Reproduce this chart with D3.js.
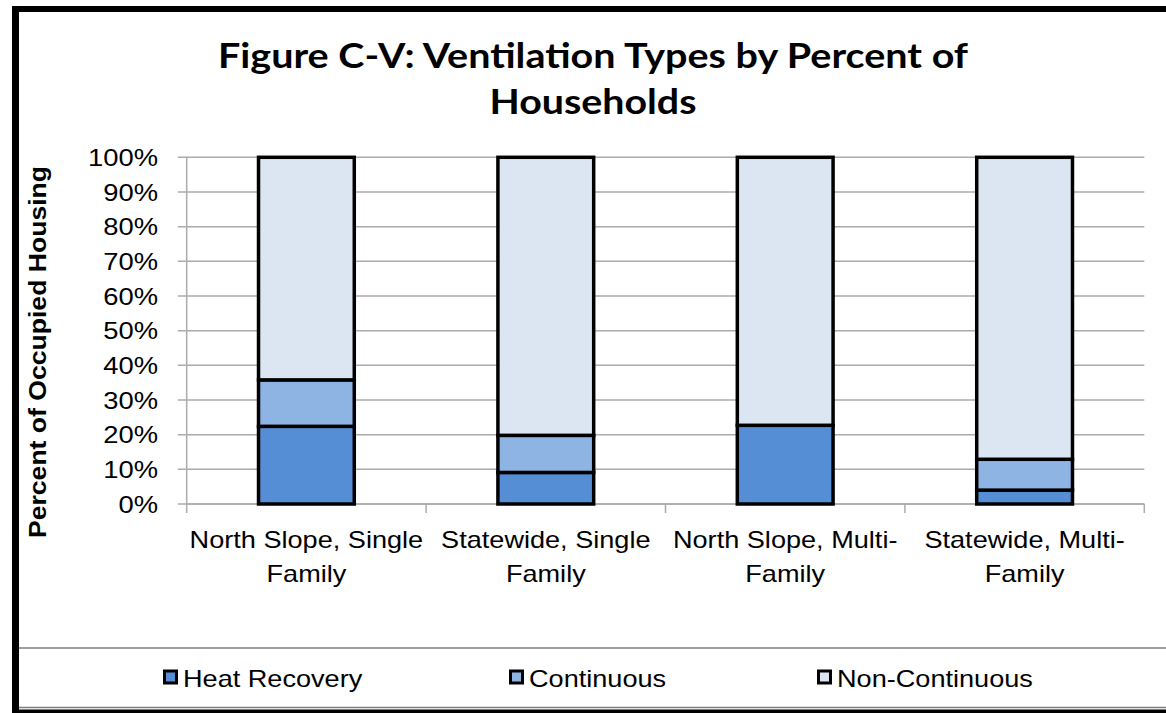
<!DOCTYPE html>
<html>
<head>
<meta charset="utf-8">
<script src="https://cdn.jsdelivr.net/npm/d3@7"></script>
<style>
  html, body { margin: 0; padding: 0; background: #fff; }
  svg { display: block; }
</style>
</head>
<body>
<div id="chart"></div>
<script>
// chart values
const categories = ["NS-SF", "SW-SF", "NS-MF", "SW-MF"];
const categoryLabels = [
  ["North Slope, Single", "Family"],
  ["Statewide, Single", "Family"],
  ["North Slope, Multi-", "Family"],
  ["Statewide, Multi-", "Family"]
];
const heatRecovery = [22.4, 9.1, 22.7, 4.0];
const continuous = [13.4, 10.7, 0, 8.9];
const nonContinuous = [64.2, 80.2, 77.3, 87.1];
const seriesNames = ["Heat Recovery", "Continuous", "Non-Continuous"];
const seriesColors = ["#558ed5", "#8eb4e3", "#dce6f2"];
const yTicks = [0, 10, 20, 30, 40, 50, 60, 70, 80, 90, 100];

const width = 1166, height = 713;
let plot = { left: 186.7, right: 1144.3, top: 157.3, bottom: 504 };

let rows = categories.map((c, i) => ({
  cat: c,
  "Heat Recovery": heatRecovery[i],
  "Continuous": continuous[i],
  "Non-Continuous": nonContinuous[i]
}));

let stacked = d3.stack().keys(seriesNames)(rows);

let x = d3.scaleBand()
  .domain(categories)
  .range([plot.left, plot.right])
  .paddingInner(0.6)
  .paddingOuter(0.3);

let y = d3.scaleLinear()
  .domain([0, 100])
  .range([plot.bottom, plot.top]);

let color = d3.scaleOrdinal().domain(seriesNames).range(seriesColors);

let svg = d3.select("#chart").append("svg")
  .attr("width", width)
  .attr("height", height);

// frame
svg.append("rect").attr("x", 0).attr("y", 0).attr("width", width).attr("height", height).attr("fill", "#fff");
svg.append("line").attr("x1", 12).attr("x2", width).attr("y1", 9).attr("y2", 9)
  .attr("stroke", "#000").attr("stroke-width", 6);
svg.append("line").attr("x1", 15.5).attr("x2", 15.5).attr("y1", 6).attr("y2", height)
  .attr("stroke", "#000").attr("stroke-width", 7);
svg.append("line").attr("x1", 19).attr("x2", width).attr("y1", 648).attr("y2", 648)
  .attr("stroke", "#7f7f7f").attr("stroke-width", 1.5);
svg.append("line").attr("x1", 19).attr("x2", width).attr("y1", 707.5).attr("y2", 707.5)
  .attr("stroke", "#7f7f7f").attr("stroke-width", 1.5);
svg.append("line").attr("x1", 12).attr("x2", width).attr("y1", 711.5).attr("y2", 711.5)
  .attr("stroke", "#000").attr("stroke-width", 4);

// title
let title = svg.append("text")
  .attr("text-anchor", "middle")
  .style("font-family", "Lato, 'Open Sans', sans-serif")
  .style("font-weight", "bold")
  .style("font-size", "35px")
  .attr("fill", "#000");
title.append("tspan").attr("x", 593).attr("y", 68)
  .attr("textLength", 750).attr("lengthAdjust", "spacingAndGlyphs")
  .text("Figure C-V: Ventilation Types by Percent of");
title.append("tspan").attr("x", 593).attr("y", 114)
  .attr("textLength", 207).attr("lengthAdjust", "spacingAndGlyphs")
  .text("Households");

// gridlines
svg.append("g")
  .selectAll("line")
  .data(yTicks)
  .join("line")
    .attr("x1", plot.left - 9)
    .attr("x2", plot.right)
    .attr("y1", d => y(d))
    .attr("y2", d => y(d))
    .attr("stroke", "#ababab")
    .attr("stroke-width", 1.5);

// y axis line
svg.append("line")
  .attr("x1", plot.left).attr("x2", plot.left)
  .attr("y1", plot.top).attr("y2", plot.bottom)
  .attr("stroke", "#ababab").attr("stroke-width", 1.5);

// y tick labels
svg.append("g")
  .selectAll("text")
  .data(yTicks)
  .join("text")
    .attr("transform", d => `translate(158,${y(d)}) scale(1.14,1)`)
    .attr("dy", "0.36em")
    .attr("text-anchor", "end")
    .style("font-family", "'Liberation Sans', Arial, sans-serif")
    .style("font-size", "24px")
    .attr("fill", "#000")
    .text(d => d + "%");

// y axis title
svg.append("text")
  .attr("transform", "translate(46,352) rotate(-90)")
  .attr("text-anchor", "middle")
  .attr("textLength", 372).attr("lengthAdjust", "spacingAndGlyphs")
  .style("font-family", "'Liberation Sans', Arial, sans-serif")
  .style("font-weight", "bold")
  .style("font-size", "23px")
  .text("Percent of Occupied Housing");

// x axis line and boundary ticks
svg.append("line")
  .attr("x1", plot.left).attr("x2", plot.right)
  .attr("y1", plot.bottom).attr("y2", plot.bottom)
  .attr("stroke", "#ababab").attr("stroke-width", 1.5);

let boundaries = d3.range(categories.length + 1).map(i => plot.left + i * x.step());
svg.append("g")
  .selectAll("line")
  .data(boundaries)
  .join("line")
    .attr("x1", d => d).attr("x2", d => d)
    .attr("y1", plot.bottom).attr("y2", plot.bottom + 9)
    .attr("stroke", "#ababab").attr("stroke-width", 1.5);

// category labels
let catG = svg.append("g")
  .selectAll("g")
  .data(categories)
  .join("g");
catG.each(function (d, i) {
  let cx = x(d) + x.bandwidth() / 2;
  d3.select(this).selectAll("text")
    .data(categoryLabels[i])
    .join("text")
      .attr("transform", (t, j) => `translate(${cx},${548 + j * 34}) scale(1.13,1)`)
      .attr("text-anchor", "middle")
      .style("font-family", "'Liberation Sans', Arial, sans-serif")
      .style("font-size", "24px")
      .attr("fill", "#000")
      .text(t => t);
});

// bars
svg.append("g")
  .selectAll("g")
  .data(stacked)
  .join("g")
    .attr("fill", d => color(d.key))
  .selectAll("rect")
  .data(d => d.filter(s => s[1] - s[0] > 0))
  .join("rect")
    .attr("x", d => x(d.data.cat))
    .attr("y", d => y(d[1]))
    .attr("width", x.bandwidth())
    .attr("height", d => y(d[0]) - y(d[1]))
    .attr("stroke", "#000")
    .attr("stroke-width", 3.5);

// legend
let legendX = [163, 509, 817];
let legend = svg.append("g")
  .selectAll("g")
  .data(seriesNames)
  .join("g")
    .attr("transform", (d, i) => `translate(${legendX[i]},678)`);
legend.append("rect")
  .attr("x", 1.5).attr("y", -7)
  .attr("width", 12).attr("height", 12)
  .attr("fill", d => color(d))
  .attr("stroke", "#000").attr("stroke-width", 3);
legend.append("text")
  .attr("transform", "translate(20,9) scale(1.13,1)")
  .style("font-family", "'Liberation Sans', Arial, sans-serif")
  .style("font-size", "24px")
  .attr("fill", "#000")
  .text(d => d);
</script>
</body>
</html>
